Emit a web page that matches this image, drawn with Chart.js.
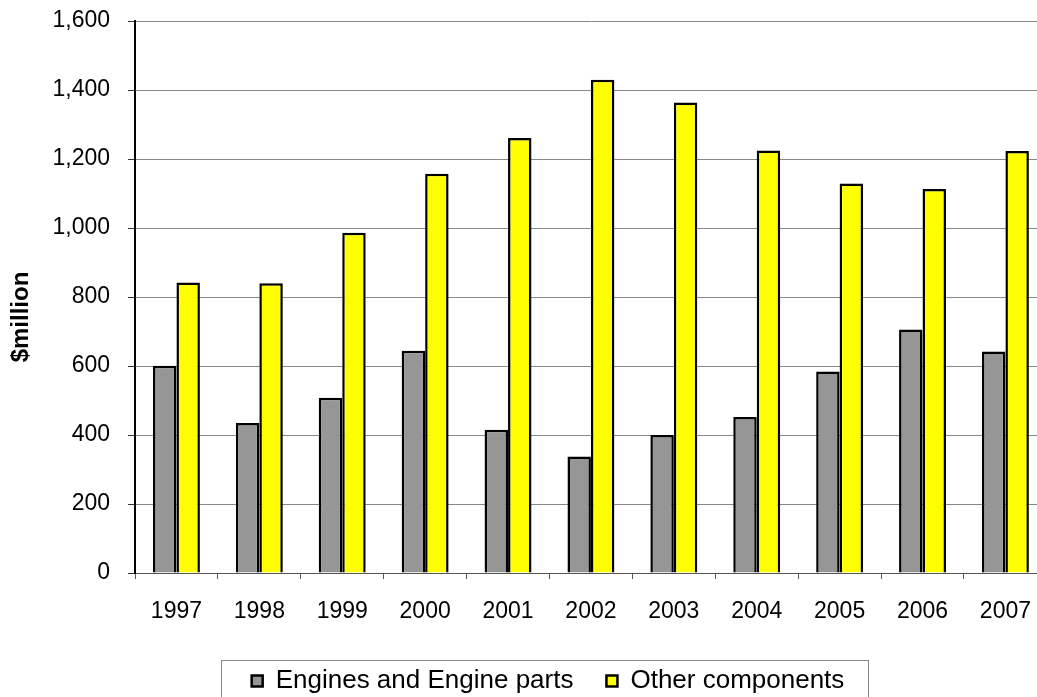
<!DOCTYPE html>
<html>
<head>
<meta charset="utf-8">
<script src="https://cdn.jsdelivr.net/npm/chart.js@4/dist/chart.umd.min.js"></script>
<style>
  body { margin: 0; overflow: hidden; background: #fff; }
  #wrap { width: 1050px; height: 697px; }
</style>
</head>
<body>
<div id="wrap"><canvas id="myChart"></canvas></div>
<script>
var years = ['1997', '1998', '1999', '2000', '2001', '2002', '2003', '2004', '2005', '2006', '2007'];
var engines = [601, 435, 508, 644, 415, 338, 400, 452, 584, 706, 642];
var others = [842, 840, 986, 1157, 1261, 1430, 1364, 1225, 1129, 1113, 1223];
var yTicks = [0, 200, 400, 600, 800, 1000, 1200, 1400, 1600];

Chart.defaults.font.family = "'Liberation Sans', Arial, sans-serif";
Chart.defaults.color = '#000';

// move the legend to where Excel put it and draw its frame,
// and drop the y title a bit lower like the original
var legendFrame = {
    id: 'legendFrame',
    afterLayout: function(chart) {
        var l = chart.legend;
        l.left += 23; l.right += 23;
        l.top += 7; l.bottom += 7;

        var y = chart.scales.y;
        if (!y._titleMoved) {
            var orig = y.drawTitle;
            y.drawTitle = function() {
                this.ctx.save();
                this.ctx.translate(0, 20);
                orig.apply(this, arguments);
                this.ctx.restore();
            };
            y._titleMoved = true;
        }
    },
    afterDraw: function(chart) {
        var boxes = chart.legend.legendHitBoxes;
        if (!boxes || !boxes.length) return;
        var first = boxes[0], last = boxes[boxes.length - 1];
        var ctx = chart.ctx;
        var x0 = Math.round(first.left - 31) + 0.5;
        var x1 = Math.round(last.left + last.width + 24) + 0.5;
        var y0 = Math.round(first.top + first.height / 2 - 21) + 0.5;
        ctx.save();
        ctx.strokeStyle = '#888';
        ctx.lineWidth = 1;
        ctx.strokeRect(x0, y0, x1 - x0, chart.height + 10 - y0);
        ctx.restore();
    }
};

var ctx = document.getElementById('myChart').getContext('2d');

var myChart = new Chart(ctx, {
    type: 'bar',
    data: {
        labels: years,
        datasets: [{
            label: 'Engines and Engine parts',
            data: engines,
            backgroundColor: '#969696',
            borderColor: '#000',
            borderWidth: 2.5
        }, {
            label: 'Other components',
            data: others,
            backgroundColor: '#ffff00',
            borderColor: '#000',
            borderWidth: 2.5
        }]
    },
    options: {
        responsive: true,
        maintainAspectRatio: false,
        animation: false,
        datasets: {
            bar: { barPercentage: 1, categoryPercentage: 0.566 }
        },
        layout: { padding: { top: 21, left: 0, right: 0, bottom: 0 } },
        plugins: {
            tooltip: { enabled: false },
            legend: {
                position: 'bottom',
                labels: {
                    boxWidth: 11,
                    boxHeight: 11,
                    padding: 33,
                    color: '#000',
                    font: { size: 26 }
                }
            }
        },
        scales: {
            x: {
                grid: { drawOnChartArea: false, tickLength: 6, color: '#555' },
                border: { color: '#555', width: 1 },
                ticks: { padding: 19, color: '#000', font: { size: 23 } },
                afterFit: function(s) { s.height = 55; }
            },
            y: {
                min: yTicks[0],
                max: yTicks[yTicks.length - 1],
                afterBuildTicks: function(s) {
                    s.ticks = yTicks.map(function(v) { return { value: v }; });
                },
                ticks: {
                    padding: 18,
                    color: '#000',
                    font: { size: 23 },
                    callback: function(v) { return v.toLocaleString('en-US'); }
                },
                grid: { color: '#888', tickColor: '#333', tickLength: 7, lineWidth: 1 },
                border: { color: '#000', width: 2 },
                title: {
                    display: true,
                    text: '$million',
                    color: '#000',
                    font: { size: 24, weight: 'bold' },
                    padding: { top: 7, bottom: 0 }
                },
                afterFit: function(s) {
                    s.width = 135;
                    s.paddingTop = 0;
                    s.paddingBottom = 0;
                }
            }
        }
    },
    plugins: [legendFrame]
});
</script>
</body>
</html>
